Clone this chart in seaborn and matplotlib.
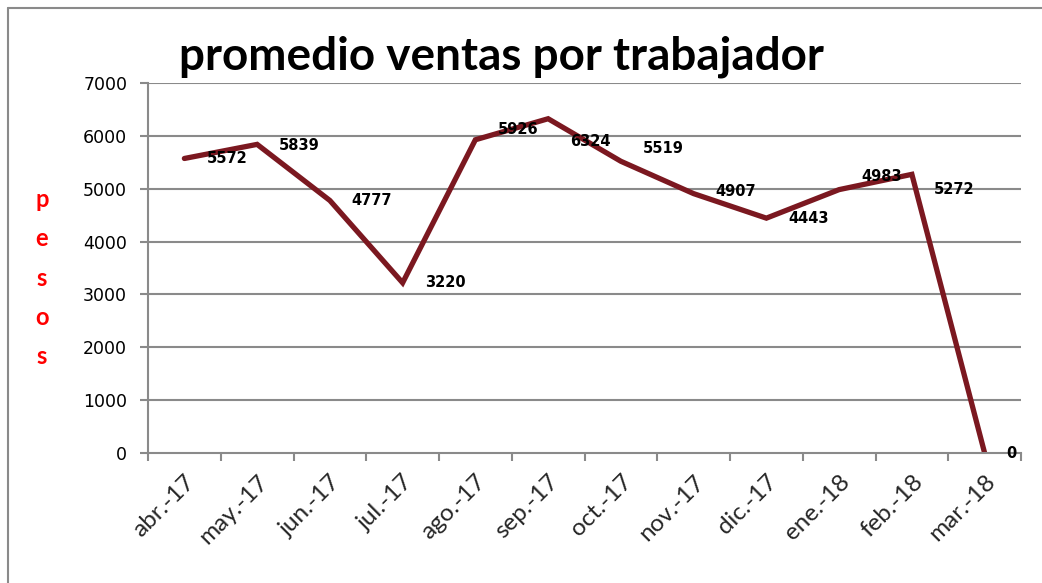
import numpy as np
import pandas as pd
import matplotlib
matplotlib.use("Agg")
import matplotlib.pyplot as plt
from matplotlib.lines import Line2D
import seaborn as sns

# ---- data ----
months = ["abr.-17", "may.-17", "jun.-17", "jul.-17", "ago.-17", "sep.-17",
          "oct.-17", "nov.-17", "dic.-17", "ene.-18", "feb.-18", "mar.-18"]
ventas = [5572, 5839, 4777, 3220, 5926, 6324, 5519, 4907, 4443, 4983, 5272, 0]
y_ticks = [0, 1000, 2000, 3000, 4000, 5000, 6000, 7000]
title = "promedio ventas por trabajador"
ylabel = "pesos"

# label vertical nudges (pixels) - layout only
label_dy = [0, -1, 0, 0, 10, -23, 13, 2, 0, 13, -15, 0]

df = pd.DataFrame({"pos": np.arange(len(months)), "mes": months, "ventas": ventas})

sns.set_theme(style="white")
plt.rcParams["font.family"] = ["DejaVu Sans"]

W, H = 1042, 583
fig = plt.figure(figsize=(W / 100, H / 100), dpi=100)
ax_l, ax_r, ax_b, ax_t = 148, 1021, 453, 83
ax = fig.add_axes([ax_l / W, 1 - ax_b / H, (ax_r - ax_l) / W, (ax_b - ax_t) / H])

line_color = "#7b1820"
grid_color = "#8a8a8a"

sns.lineplot(data=df, x="pos", y="ventas", ax=ax, color=line_color, lw=3.8,
             solid_joinstyle="miter", solid_capstyle="round")

n = len(months)
ax.set_xlim(-0.5, n - 0.5)
ax.set_ylim(0, 7000)

# gridlines
ax.set_yticks(y_ticks)
ax.set_yticklabels([str(v) for v in y_ticks], fontsize=12.5, color="black")
for v in y_ticks[1:]:
    ax.axhline(v, color=grid_color, lw=1.5, zorder=0)
ax.tick_params(axis="y", which="major", length=6, width=1.5, color=grid_color,
               direction="out", pad=9, left=True)

# x: tick marks at boundaries, labels at centres
ax.set_xticks(np.arange(-0.5, n, 1.0))
ax.set_xticklabels([])
ax.tick_params(axis="x", which="major", length=6, width=1.5, color=grid_color,
               direction="out", bottom=True)
ax.set_xticks(df["pos"], minor=True)
ax.set_xticklabels(months, minor=True, rotation=45, ha="right",
                   rotation_mode="anchor", fontsize=17.5,
                   family=["Lato", "DejaVu Sans"])
ax.tick_params(axis="x", which="minor", length=0, pad=13)

for s in ["top", "right"]:
    ax.spines[s].set_visible(False)
for s in ["left", "bottom"]:
    ax.spines[s].set_color(grid_color)
    ax.spines[s].set_linewidth(1.5)

ax.set_xlabel("")
ax.set_ylabel("\n".join(ylabel), rotation=0, color="#ff0000", fontsize=17,
              fontweight="bold", family=["Lato", "DejaVu Sans"], linespacing=1.85,
              va="center", ha="center")
ax.yaxis.set_label_coords((42 - ax_l) / (ax_r - ax_l), (ax_b - 278) / (ax_b - ax_t))

# data labels
for i, (v, dy) in enumerate(zip(ventas, label_dy)):
    ax.annotate(str(v), (i, v), xytext=(22, dy), textcoords="offset pixels",
                ha="left", va="center", fontsize=10.5, fontweight="bold",
                color="black", clip_on=False)

fig.text(501 / W, 1 - 70 / H, title, ha="center", va="baseline", fontsize=33,
         fontweight="bold", family=["Lato", "DejaVu Sans"], color="black")

# outer frame (top and left edges visible)
fig.add_artist(Line2D([7.5 / W, 1.0], [1 - 7.5 / H, 1 - 7.5 / H],
                      transform=fig.transFigure, color=grid_color, lw=1.5))
fig.add_artist(Line2D([7.5 / W, 7.5 / W], [1 - 7.5 / H, 0],
                      transform=fig.transFigure, color=grid_color, lw=1.5))

fig.savefig("out.png", dpi=100, facecolor="white")
